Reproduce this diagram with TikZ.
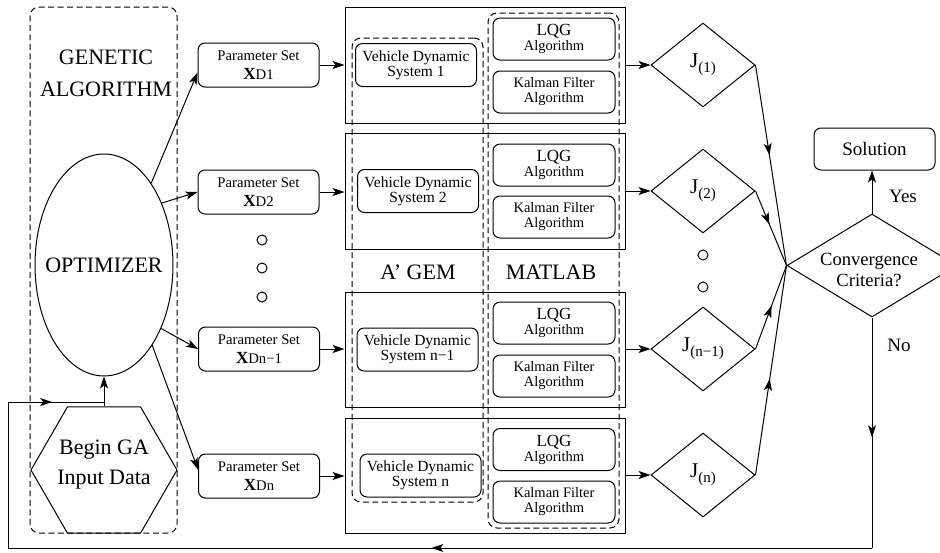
\documentclass[tikz,border=0pt]{standalone}
\usepackage{fontspec}
\setmainfont{Liberation Serif}
\usetikzlibrary{arrows.meta,shapes.geometric,decorations.markings}
\newcommand{\mkxd}[1]{{\fontsize{17}{17}\selectfont\bfseries X}#1}
\newcommand{\jlab}[1]{J\raisebox{-5pt}{\fontsize{15}{15}\selectfont #1}}
\begin{document}
\begin{tikzpicture}[x=1pt,y=-1pt,line width=1pt,
  tip/.style={-{Stealth[length=12pt,width=8pt,inset=3pt]}},
  midarr/.style={postaction={decorate},decoration={markings,mark=at position #1 with {\arrow{Stealth[length=12pt,width=8pt,inset=3pt]}}}},
  rbox/.style={draw,rounded corners=7pt,minimum width=121pt,minimum height=43pt,inner sep=0pt,align=center},
  psbox/.style={rbox,minimum height=44pt,font=\fontsize{14.7}{19.5}\selectfont},
  vdbox/.style={rbox,font=\fontsize{15.5}{15}\selectfont},
  algbox/.style={rbox,minimum width=122pt,minimum height=42pt,font=\fontsize{14.5}{15}\selectfont},
  bigbox/.style={draw,rectangle,minimum width=280pt,minimum height=116pt,inner sep=0pt},
  dbox/.style={draw,dash pattern=on 6pt off 3.5pt,rounded corners=9pt,inner sep=0pt},
  jdia/.style={draw,diamond,minimum width=104pt,minimum height=84pt,inner sep=0pt,font=\fontsize{21}{21}\selectfont},
  dotc/.style={draw,circle,minimum size=10pt,inner sep=0pt,line width=1pt},
  bigtxt/.style={font=\fontsize{22}{30}\selectfont,align=center,inner sep=0pt},
  midtxt/.style={font=\fontsize{19}{21}\selectfont,align=center,inner sep=0pt},
]
\useasboundingbox (0,0) rectangle (940,552);
\clip (0,0) rectangle (940,552);

% big solid boxes
\node[bigbox] (b1) at (485,65) {};
\node[bigbox] (b2) at (485,191) {};
\node[bigbox,minimum height=115pt] (b3) at (485,349.5) {};
\node[bigbox,minimum height=115pt] (b4) at (485,475.5) {};

% dashed groups
\node[dbox,minimum width=147pt,minimum height=526pt] (ga) at (103.5,270) {};
\node[dbox,minimum width=131pt,minimum height=464pt] (gem) at (417.5,270) {};
\node[dbox,minimum width=131pt,minimum height=515pt] (mat) at (553.5,270.5) {};

\node[bigtxt,font=\fontsize{22}{32}\selectfont] (gatxt) at (106,73.5) {GENETIC\\ALGORITHM};
\node[bigtxt] (gemtxt) at (418,272.5) {A’ GEM};
\node[bigtxt] (mattxt) at (551,272.5) {MATLAB};

% optimizer and start
\node[draw,ellipse,minimum width=138pt,minimum height=222pt,inner sep=0pt] (opt) at (104,265) {};
\node[bigtxt] (opttxt) at (104,265) {OPTIMIZER};
\node[draw,regular polygon,regular polygon sides=6,minimum size=146pt,inner sep=0pt] (hex) at (104,470) {};
\node[bigtxt] (hextxt) at (104,465) {Begin GA\\Input Data};

% parameter sets
\node[psbox] (ps1) at (258.5,65) {Parameter Set\\\mkxd{D1}};
\node[psbox] (ps2) at (258.5,192) {Parameter Set\\\mkxd{D2}};
\node[psbox] (ps3) at (259,349) {Parameter Set\\\mkxd{Dn−1}};
\node[psbox] (ps4) at (259,476) {Parameter Set\\\mkxd{Dn}};

\node[dotc] (dl1) at (262,240) {};
\node[dotc] (dl2) at (262,268) {};
\node[dotc] (dl3) at (262,297) {};

% vehicle dynamic systems
\node[vdbox] (vd1) at (416,65) {Vehicle Dynamic\\System 1};
\node[vdbox] (vd2) at (418,191) {Vehicle Dynamic\\System 2};
\node[vdbox] (vd3) at (417.5,349.5) {Vehicle Dynamic\\System n−1};
\node[vdbox] (vd4) at (420.5,475.5) {Vehicle Dynamic\\System n};

% matlab algorithms
\node[algbox] (lqg1) at (554,39) {{\fontsize{17}{15}\selectfont LQG}\\Algorithm};
\node[algbox] (kf1) at (554,92) {Kalman Filter\\Algorithm};
\node[algbox] (lqg2) at (554,165) {{\fontsize{17}{15}\selectfont LQG}\\Algorithm};
\node[algbox] (kf2) at (554,217) {Kalman Filter\\Algorithm};
\node[algbox] (lqg3) at (554,323) {{\fontsize{17}{15}\selectfont LQG}\\Algorithm};
\node[algbox] (kf3) at (554,376) {Kalman Filter\\Algorithm};
\node[algbox] (lqg4) at (554,449.5) {{\fontsize{17}{15}\selectfont LQG}\\Algorithm};
\node[algbox] (kf4) at (554,502) {Kalman Filter\\Algorithm};

% cost diamonds
\node[jdia] (j1) at (703,65) {\jlab{(1)}};
\node[jdia] (j2) at (703,191) {\jlab{(2)}};
\node[jdia] (j3) at (703,349) {\jlab{(n−1)}};
\node[jdia] (j4) at (703,475) {\jlab{(n)}};
\node[dotc] (dr1) at (703,255) {};
\node[dotc] (dr2) at (703,287) {};

% convergence and solution
\node[draw,diamond,minimum width=170pt,minimum height=103pt,inner sep=0pt] (conv) at (872,265.5) {};
\node[midtxt,font=\fontsize{18.6}{21}\selectfont] (convtxt) at (869,269.5) {Convergence\\Criteria?};
\node[rbox,font=\fontsize{19}{19}\selectfont,minimum height=42pt] (sol) at (874.5,149) {Solution};
\node[midtxt] (yes) at (903,196) {Yes};
\node[midtxt] (no) at (899,345) {No};

% connectors
\draw[tip] (opt.60) -- (ps1.187);
\draw[tip] (opt.47) -- (ps2.west);
\draw[tip] (opt.-48) -- (ps3.west);
\draw[tip] (opt.-59) -- (ps4.174);
\foreach \i in {1,2,3,4}{
  \draw[tip] (ps\i.east) -- (ps\i.east -| b\i.west);
  \draw[tip] (b\i.east |- j\i.west) -- (j\i.west);
}
\draw[midarr=0.45] (j1.east) -- (conv.west);
\draw[midarr=0.45] (j2.east) -- (conv.west);
\draw[midarr=0.52] (j3.east) -- (conv.west);
\draw[midarr=0.46] (j4.east) -- (conv.west);
\draw[tip] (conv.north) -- (conv.north |- sol.south);

\coordinate (c1) at (872,548);
\coordinate (c2) at (8,548);
\coordinate (c3) at (8,402);
\coordinate (c4) at (104,402);
\draw[midarr=0.52] (conv.south) -- (c1);
\draw[midarr=0.51] (c1) -- (c2);
\draw (c2) -- (c3);
\draw[midarr=0.46] (c3) -- (c4);
\draw[tip] (hex.north) -- (opt.south);
\end{tikzpicture}
\end{document}
